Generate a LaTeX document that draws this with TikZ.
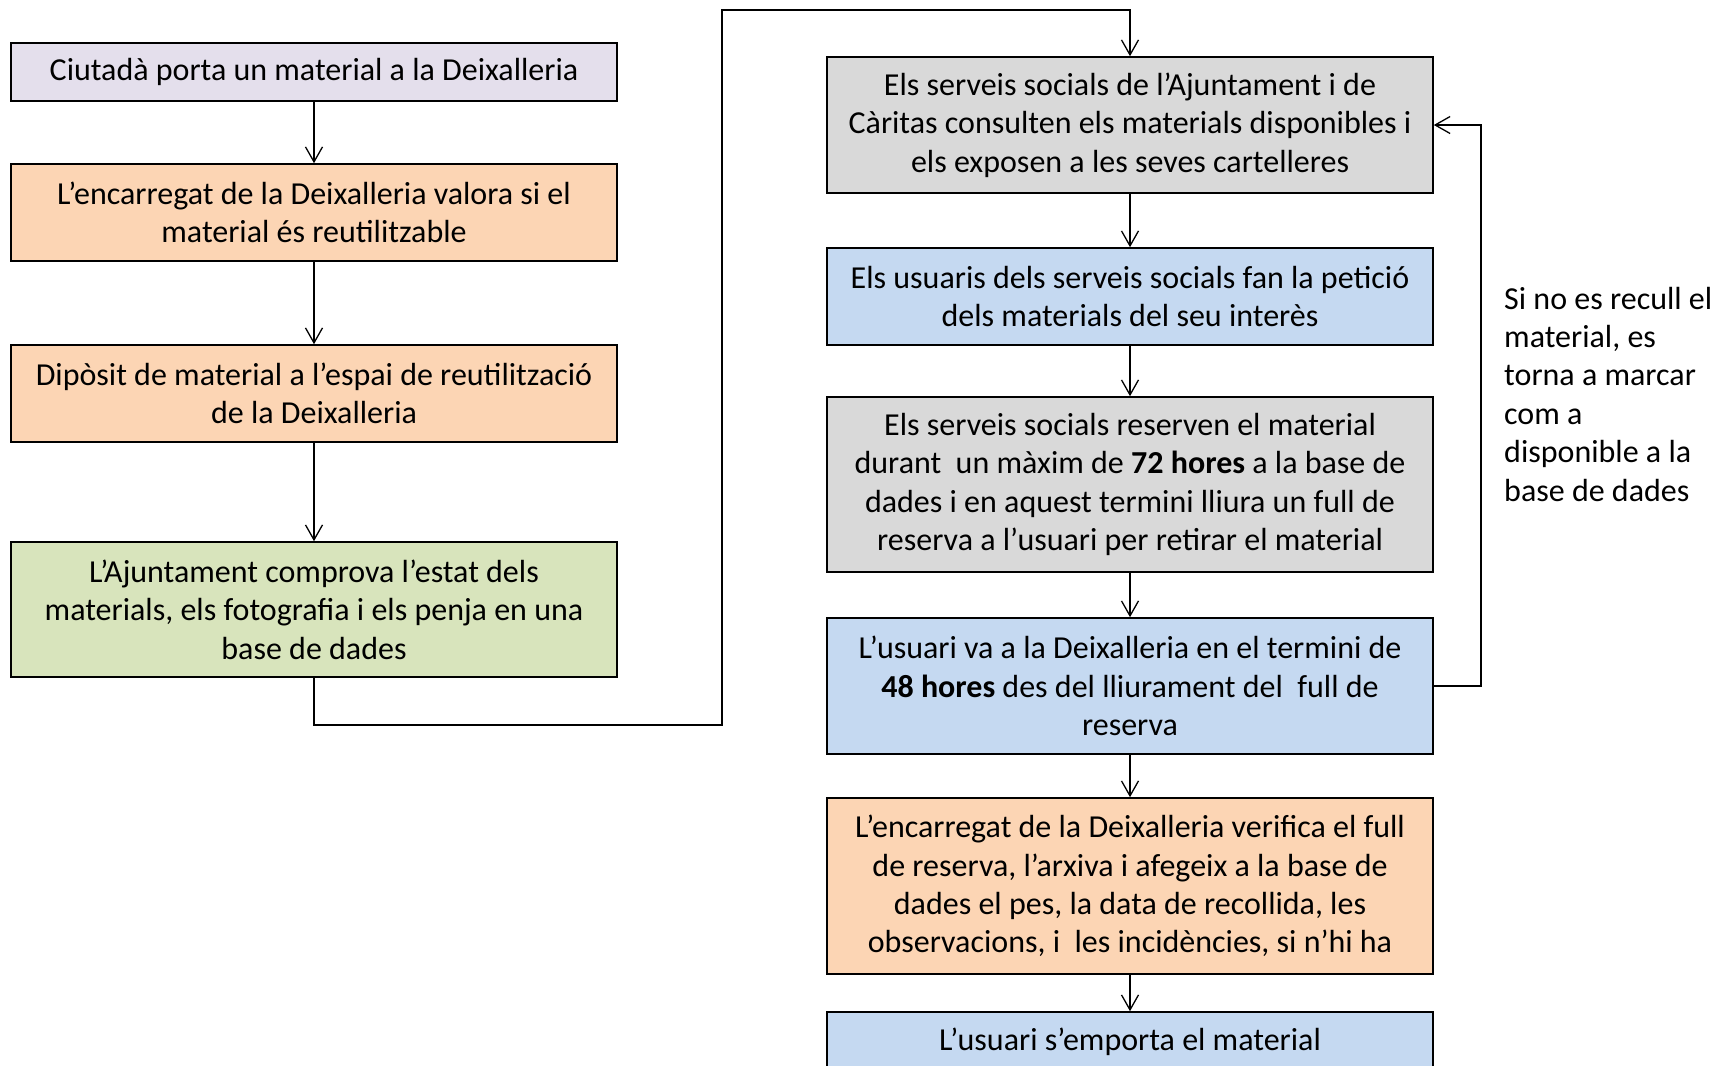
\documentclass[tikz,border=0pt]{standalone}
\usepackage{fontspec}
\setmainfont{Carlito}
\usetikzlibrary{arrows.meta}
\definecolor{cpurple}{HTML}{E4DFEC}
\definecolor{corange}{HTML}{FCD5B4}
\definecolor{cgreen}{HTML}{D8E4BC}
\definecolor{cgray}{HTML}{D9D9D9}
\definecolor{cblue}{HTML}{C5D9F1}
\tikzset{
  txt/.style={font=\fontsize{32pt}{38.4pt}\selectfont},
  box/.style={draw=black, line width=1.6pt, rectangle, minimum width=606pt, align=center, inner sep=0pt, txt},
  conn/.style={line width=1.3pt, -{Straight Barb[length=15pt,width=17pt,line width=1.3pt]}}
}
\begin{document}
\begin{tikzpicture}[x=1pt,y=-1pt]
\useasboundingbox (0,0) rectangle (1733,1066);
\fill[white] (0,0) rectangle (1733,1066);
% left column
\node[box, fill=cpurple, minimum height=58pt] (b1) at (314,72) {Ciutadà porta un material a la Deixalleria};
\node[box, fill=corange, minimum height=97pt] (b2) at (314,212.5) {L’encarregat de la Deixalleria valora si el\\material és reutilitzable};
\node[box, fill=corange, minimum height=97pt] (b3) at (314,393.5) {Dipòsit de material a l’espai de reutilització\\de la Deixalleria};
\node[box, fill=cgreen, minimum height=135pt] (b4) at (314,609.5) {L’Ajuntament comprova l’estat dels\\materials, els fotografia i els penja en una\\base de dades};
% right column
\node[box, fill=cgray, minimum height=136pt] (r1) at (1130,125) {Els serveis socials de l’Ajuntament i de\\Càritas consulten els materials disponibles i\\els exposen a les seves cartelleres};
\node[box, fill=cblue, minimum height=97pt] (r2) at (1130,296.5) {Els usuaris dels serveis socials fan la petició\\dels materials del seu interès};
\node[box, fill=cgray, minimum height=175pt] (r3) at (1130,484.5) {Els serveis socials reserven el material\\durant~ un màxim de \textbf{72 hores} a la base de\\dades i en aquest termini lliura un full de\\reserva a l’usuari per retirar el material};
\node[box, fill=cblue, minimum height=136pt] (r4) at (1130,686) {L’usuari va a la Deixalleria en el termini de\\\textbf{48 hores} des del lliurament del~ full de\\reserva};
\node[box, fill=corange, minimum height=176pt] (r5) at (1130,886) {L’encarregat de la Deixalleria verifica el full\\de reserva, l’arxiva i afegeix a la base de\\dades el pes, la data de recollida, les\\observacions, i~ les incidències, si n’hi ha};
\node[box, fill=cblue, minimum height=90pt] (r6) at (1130,1057) {};
\node[txt] (r6t) at (1130,1042) {L’usuari s’emporta el material};
% side note
\node[txt, anchor=west, align=left, inner sep=0pt] (note) at (1504,394) {Si no es recull el\\material, es\\torna a marcar\\com a\\disponible a la\\base de dades};
% connectors
\draw[conn] (b1) -- (b2);
\draw[conn] (b2) -- (b3);
\draw[conn] (b3) -- (b4);
\coordinate (c1) at (314,725);
\coordinate (c2) at (722,725);
\coordinate (c3) at (722,10);
\coordinate (c4) at (1130,10);
\draw[conn] (b4.south) -- (c1) -- (c2) -- (c3) -- (c4) -- (r1.north);
\draw[conn] (r1) -- (r2);
\draw[conn] (r2) -- (r3);
\draw[conn] (r3) -- (r4);
\draw[conn] (r4) -- (r5);
\draw[conn] (r5) -- (r6);
\coordinate (f1) at (1481,686);
\coordinate (f2) at (1481,125);
\draw[conn] (r4.east) -- (f1) -- (f2) -- (r1.east);
\end{tikzpicture}
\end{document}
